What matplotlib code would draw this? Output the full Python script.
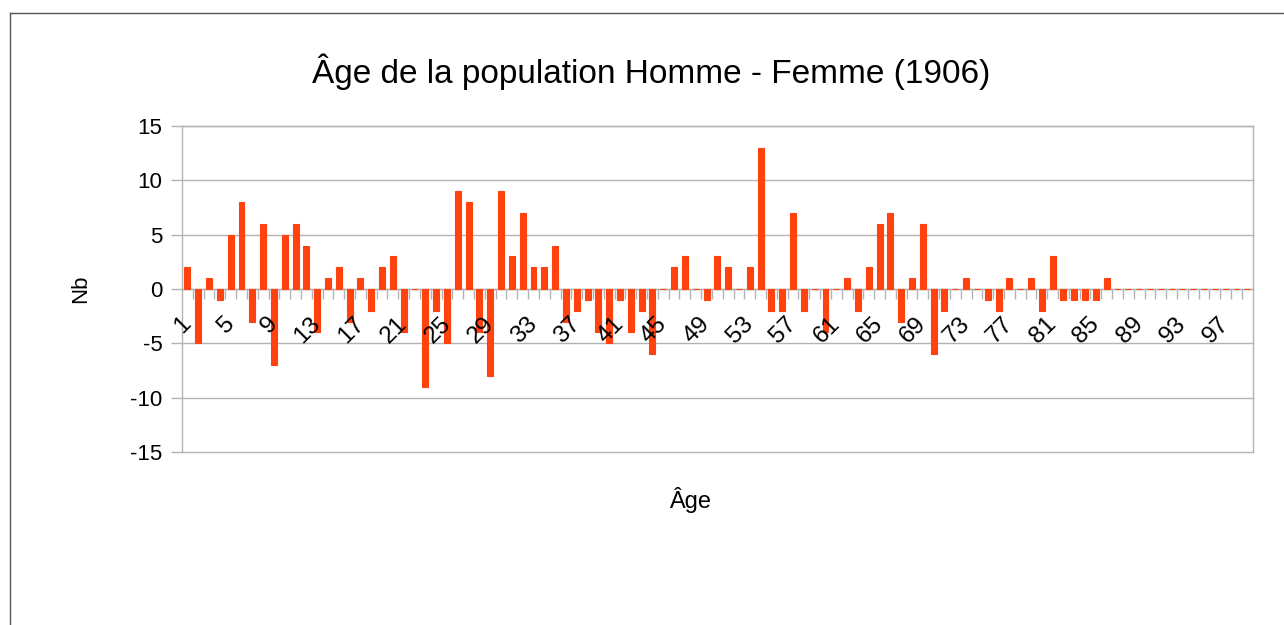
import matplotlib
matplotlib.use('Agg')
import matplotlib.pyplot as plt
from matplotlib.lines import Line2D
from matplotlib.transforms import ScaledTranslation
import numpy as np

# ---- data ----
ages = list(range(1, 100))
diff = [2, -5, 1, -1, 5, 8, -3, 6, -7, 5,
        6, 4, -4, 1, 2, -3, 1, -2, 2, 3,
        -4, 0, -9, -2, -5, 9, 8, -4, -8, 9,
        3, 7, 2, 2, 4, -3, -2, -1, -4, -5,
        -1, -4, -2, -6, 0, 2, 3, 0, -1, 3,
        2, 0, 2, 13, -2, -2, 7, -2, 0, -4,
        0, 1, -2, 2, 6, 7, -3, 1, 6, -6,
        -2, 0, 1, 0, -1, -2, 1, 0, 1, -2,
        3, -1, -1, -1, -1, 1, 0, 0, 0, 0,
        0, 0, 0, 0, 0, 0, 0, 0, 0]
label_ages = list(range(1, 100, 4))
tick_labels = [str(a) for a in label_ages]
y_ticks = [-15, -10, -5, 0, 5, 10, 15]

title = "Âge de la population Homme - Femme (1906)"
xlabel = "Âge"
ylabel = "Nb"

plt.rcParams['font.family'] = ['Liberation Sans', 'DejaVu Sans']

W, H = 1284, 625
fig = plt.figure(figsize=(W / 100, H / 100), dpi=100)
left, right, top, bottom = 182, 1252.7, 126, 452
ax = fig.add_axes([left / W, 1 - bottom / H, (right - left) / W, (bottom - top) / H])

bar_color = '#FF420E'
grid_color = '#b3b3b3'

ax.bar(ages, diff, width=0.55, color=bar_color, edgecolor=bar_color,
       linewidth=0.8, zorder=3)

ax.set_xlim(0.5, 99.5)
ax.set_ylim(-15, 15)
ax.set_yticks(y_ticks)
ax.set_yticklabels([str(v) for v in y_ticks])
ax.grid(axis='y', color=grid_color, linewidth=1)
ax.set_axisbelow(True)
ax.xaxis.set_zorder(3.5)   # x tick labels drawn over the bars
for gl in ax.get_ygridlines():
    gl.set_clip_on(False)

for s in ['left', 'right', 'top', 'bottom']:
    ax.spines[s].set_color(grid_color)
    ax.spines[s].set_linewidth(1)
ax.spines['bottom'].set_position(('data', 0))
ax.spines['bottom'].set_zorder(2)

ax.set_xticks(label_ages)
ax.set_xticklabels(tick_labels)
ax.set_xticks(np.arange(1.5, 99.5, 1), minor=True)
ax.tick_params(axis='x', which='minor', length=7.5, color=grid_color, width=1)
ax.tick_params(axis='x', which='major', length=0, pad=17, labelsize=17.5,
               labelrotation=45)
offset = ScaledTranslation(8 / 100, 0, fig.dpi_scale_trans)
for lab in ax.get_xticklabels():
    lab.set_ha('right')
    lab.set_va('top')
    lab.set_transform(lab.get_transform() + offset)
ax.tick_params(axis='y', which='major', length=8, color=grid_color, width=1,
               pad=6, labelsize=16)

fig.text(651 / W, 1 - 72 / H, title, ha='center', va='center', fontsize=24)
fig.text(690 / W, 1 - 500 / H, xlabel, ha='center', va='center', fontsize=17)
fig.text(81 / W, 1 - 289 / H, ylabel, ha='center', va='center', fontsize=16,
         rotation=90)

border = '#555555'
fig.add_artist(Line2D([10 / W, 1], [1 - 12.5 / H, 1 - 12.5 / H], color=border,
                      lw=1, transform=fig.transFigure))
fig.add_artist(Line2D([10.5 / W, 10.5 / W], [0, 1 - 12.5 / H], color=border,
                      lw=1, transform=fig.transFigure))

fig.savefig('out.png', dpi=100)
